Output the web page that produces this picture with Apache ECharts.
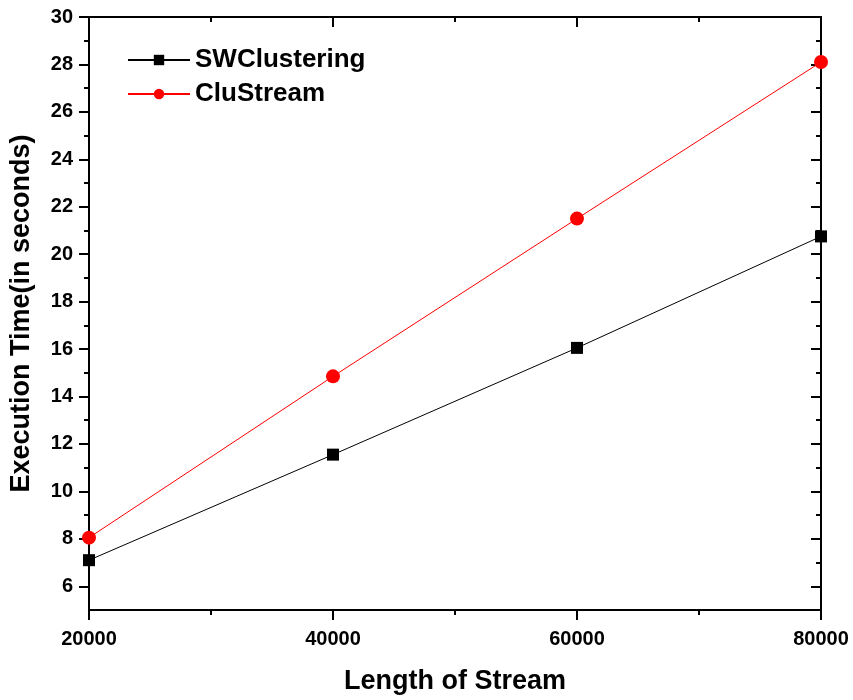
<!DOCTYPE html>
<html>
<head>
<meta charset="utf-8">
<script src="https://cdn.jsdelivr.net/npm/echarts@6/dist/echarts.min.js"></script>
<style>
  html, body { margin: 0; padding: 0; background: #fff; }
  #chart { width: 853px; height: 700px; }
</style>
</head>
<body>
<div id="chart"></div>
<script>
// data
const streamLengths = [20000, 40000, 60000, 80000];
const swClustering = [7.1, 11.55, 16.05, 20.75];
const cluStream = [8.05, 14.85, 21.5, 28.1];
const yMajorTicks = [6, 8, 10, 12, 14, 16, 18, 20, 22, 24, 26, 28, 30];
const yMinorTicks = [7, 9, 11, 13, 15, 17, 19, 21, 23, 25, 27, 29];

const font = 'Liberation Sans, Arial, Helvetica, sans-serif';
const black = '#000';

const chart = echarts.init(document.getElementById('chart'));

const toPairs = (ys) => streamLengths.map((x, i) => [x, ys[i]]);

// y axes: major/minor ticks on left (outward) and right (inward)
const yBase = {
  type: 'value',
  min: 5,
  max: 30,
  splitLine: { show: false },
  axisLine: { show: true, lineStyle: { color: black, width: 2 } }
};

const options = {
  animation: false,
  backgroundColor: '#fff',
  grid: { left: 89, right: 32, top: 17, bottom: 87 },
  legend: {
    left: 122,
    top: 42,
    orient: 'vertical',
    itemWidth: 62,
    itemHeight: 13,
    itemGap: 8,
    textStyle: { fontFamily: font, fontWeight: 'bold', fontSize: 26, color: black },
    data: ['SWClustering', 'CluStream']
  },
  xAxis: [
    {
      type: 'value',
      position: 'bottom',
      min: 20000,
      max: 80000,
      interval: 20000,
      name: 'Length of Stream',
      nameLocation: 'middle',
      nameGap: 58,
      nameTextStyle: { fontFamily: font, fontWeight: 'bold', fontSize: 27, color: black },
      axisLine: { show: true, lineStyle: { color: black, width: 2 } },
      axisTick: { show: true, length: 10, lineStyle: { color: black, width: 2 } },
      minorTick: { show: true, splitNumber: 2, length: 5, lineStyle: { color: black, width: 2 } },
      axisLabel: {
        fontFamily: font, fontWeight: 'bold', fontSize: 20, color: black, margin: 19,
        formatter: (v) => String(v)
      },
      splitLine: { show: false },
      minorSplitLine: { show: false }
    },
    {
      type: 'value',
      position: 'top',
      min: 20000,
      max: 80000,
      interval: 20000,
      axisLine: { show: true, lineStyle: { color: black, width: 2 } },
      axisTick: { show: true, inside: true, length: 10, lineStyle: { color: black, width: 2 } },
      minorTick: { show: true, splitNumber: 2, length: 5, lineStyle: { color: black, width: 2 } },
      axisLabel: { show: false },
      splitLine: { show: false },
      minorSplitLine: { show: false }
    }
  ],
  yAxis: [
    Object.assign({}, yBase, {
      position: 'left',
      name: 'Execution Time(in seconds)',
      nameLocation: 'middle',
      nameGap: 54,
      nameTextStyle: { fontFamily: font, fontWeight: 'bold', fontSize: 27, color: black },
      axisTick: { show: true, length: 10, customValues: yMajorTicks, lineStyle: { color: black, width: 2 } },
      axisLabel: { fontFamily: font, fontWeight: 'bold', fontSize: 20, color: black, margin: 16, customValues: yMajorTicks }
    }),
    Object.assign({}, yBase, {
      position: 'left',
      axisTick: { show: true, length: 5, customValues: yMinorTicks, lineStyle: { color: black, width: 2 } },
      axisLabel: { show: false }
    }),
    Object.assign({}, yBase, {
      position: 'right',
      axisTick: { show: true, inside: true, length: 10, customValues: yMajorTicks, lineStyle: { color: black, width: 2 } },
      axisLabel: { show: false }
    }),
    Object.assign({}, yBase, {
      position: 'right',
      axisTick: { show: true, inside: true, length: 5, customValues: yMinorTicks, lineStyle: { color: black, width: 2 } },
      axisLabel: { show: false }
    })
  ],
  series: [
    {
      name: 'SWClustering',
      type: 'line',
      data: toPairs(swClustering),
      symbol: 'rect',
      symbolSize: 12,
      itemStyle: { color: black },
      lineStyle: { color: black, width: 1 }
    },
    {
      name: 'CluStream',
      type: 'line',
      data: toPairs(cluStream),
      symbol: 'circle',
      symbolSize: 14,
      itemStyle: { color: '#ff0000' },
      lineStyle: { color: '#ff0000', width: 1 }
    }
  ]
};

chart.setOption(options);
</script>
</body>
</html>
